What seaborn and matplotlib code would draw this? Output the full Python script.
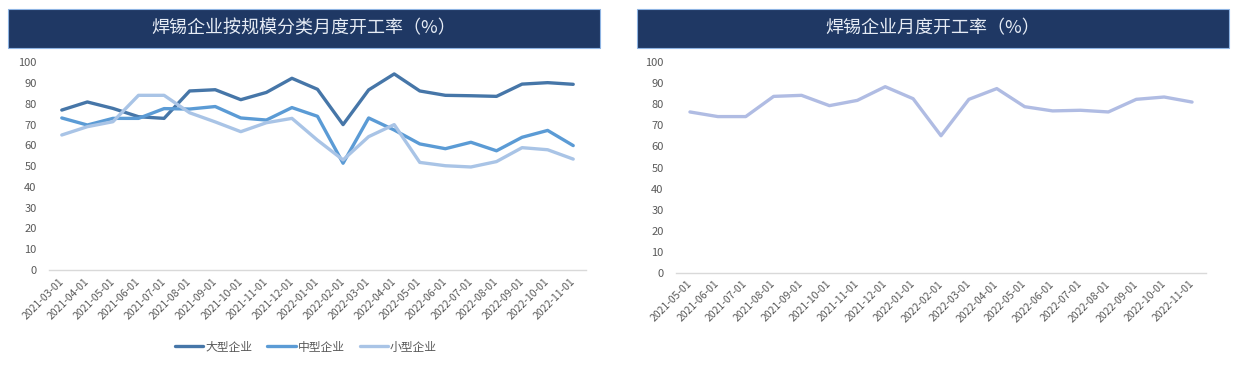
import numpy as np
import pandas as pd
import matplotlib
matplotlib.use("Agg")
import matplotlib.pyplot as plt
import seaborn as sns
from matplotlib.patches import Rectangle
from matplotlib.lines import Line2D

# ---------------- data ----------------
dates_left = ["2021-03-01", "2021-04-01", "2021-05-01", "2021-06-01", "2021-07-01",
              "2021-08-01", "2021-09-01", "2021-10-01", "2021-11-01", "2021-12-01",
              "2022-01-01", "2022-02-01", "2022-03-01", "2022-04-01", "2022-05-01",
              "2022-06-01", "2022-07-01", "2022-08-01", "2022-09-01", "2022-10-01",
              "2022-11-01"]
large = [77.0, 80.9, 77.8, 73.8, 73.0, 86.2, 86.8, 82.0, 85.5, 92.3, 87.0,
         70.0, 86.7, 94.4, 86.2, 84.1, 83.9, 83.6, 89.5, 90.2, 89.4]
medium = [73.2, 69.8, 73.0, 73.0, 77.7, 77.5, 78.7, 73.2, 72.2, 78.2, 74.0,
          51.4, 73.2, 67.4, 60.7, 58.4, 61.5, 57.4, 63.9, 67.2, 59.9]
small = [65.0, 69.0, 71.4, 84.1, 84.1, 75.7, 71.3, 66.6, 70.9, 73.0, 62.5,
         53.0, 64.2, 70.0, 51.8, 50.2, 49.6, 52.2, 58.9, 57.9, 53.4]
series_names = ["大型企业", "中型企业", "小型企业"]

dates_right = ["2021-05-01", "2021-06-01", "2021-07-01", "2021-08-01", "2021-09-01",
               "2021-10-01", "2021-11-01", "2021-12-01", "2022-01-01", "2022-02-01",
               "2022-03-01", "2022-04-01", "2022-05-01", "2022-06-01", "2022-07-01",
               "2022-08-01", "2022-09-01", "2022-10-01", "2022-11-01"]
overall = [76.4, 74.2, 74.2, 83.8, 84.3, 79.4, 81.9, 88.4, 82.7, 65.1,
           82.4, 87.5, 78.9, 76.9, 77.2, 76.4, 82.4, 83.5, 81.1]
overall_name = "开工率"

title_left = "焊锡企业按规模分类月度开工率（%）"
title_right = "焊锡企业月度开工率（%）"
y_ticks = [0, 10, 20, 30, 40, 50, 60, 70, 80, 90, 100]

# ---------------- style ----------------
sns.set_style("white")
plt.rcParams["font.family"] = ["Noto Sans CJK SC", "DejaVu Sans"]
plt.rcParams["axes.unicode_minus"] = False

W, H = 1243, 371
fig = plt.figure(figsize=(W / 100, H / 100), dpi=100)

TICK_COLOR = "#595959"
AXIS_COLOR = "#D9D9D9"
palette_left = {"大型企业": "#4676A8", "中型企业": "#5B9BD5", "小型企业": "#A9C4E6"}
palette_right = {overall_name: "#B0BCE3"}


def px_axes(x0, x1, y_top, y_bot):
    return fig.add_axes([x0 / W, 1 - y_bot / H, (x1 - x0) / W, (y_bot - y_top) / H])


def style_axis(ax, labels):
    n = len(labels)
    ax.set_xlim(-0.5, n - 0.5)
    ax.set_ylim(0, 100)
    ax.set_yticks(y_ticks)
    ax.set_yticklabels([str(v) for v in y_ticks])
    ax.set_xticks(np.arange(n))
    ax.set_xticklabels(labels, rotation=45, ha="right", va="center",
                       rotation_mode="anchor")
    ax.set_xticks(np.arange(-0.5, n, 1), minor=True)
    ax.tick_params(axis="x", which="major", length=0, pad=7, labelsize=7.5,
                   labelcolor=TICK_COLOR)
    ax.tick_params(axis="x", which="minor", length=4, width=1, color=AXIS_COLOR)
    ax.tick_params(axis="y", length=0, pad=9, labelsize=8, labelcolor=TICK_COLOR)
    for s in ["top", "right", "left"]:
        ax.spines[s].set_visible(False)
    ax.spines["bottom"].set_color(AXIS_COLOR)
    ax.spines["bottom"].set_linewidth(1.0)
    ax.set_xlabel("")
    ax.set_ylabel("")
    ax.grid(False)


# ---------------- left chart ----------------
df_left = pd.DataFrame({
    "date": dates_left * 3,
    "value": large + medium + small,
    "series": [series_names[0]] * len(dates_left) + [series_names[1]] * len(dates_left)
              + [series_names[2]] * len(dates_left),
})
axL = px_axes(49, 586, 62.3, 270)
sns.lineplot(data=df_left, x="date", y="value", hue="series", hue_order=series_names,
             palette=palette_left, linewidth=2.4, legend=False, sort=False, ax=axL)
style_axis(axL, dates_left)

handles = [Line2D([0], [0], color=palette_left[n], lw=2.4) for n in series_names]
fig.legend(handles, series_names, loc="center", bbox_to_anchor=(306 / W, 1 - 347 / H),
           ncol=3, frameon=False, fontsize=8.5, handlelength=2.4, handletextpad=0.15,
           columnspacing=1.3, labelcolor=TICK_COLOR)

# ---------------- right chart ----------------
df_right = pd.DataFrame({"date": dates_right, "value": overall,
                         "series": [overall_name] * len(dates_right)})
axR = px_axes(676, 1206, 62.3, 272.7)
sns.lineplot(data=df_right, x="date", y="value", hue="series", palette=palette_right,
             linewidth=2.4, legend=False, sort=False, ax=axR)
style_axis(axR, dates_right)

# ---------------- title boxes ----------------
for (x0, x1), title in [((8, 600), title_left), ((637, 1229), title_right)]:
    y_top, y_bot = 8.5, 47.5
    fig.patches.append(Rectangle((x0 / W, 1 - y_bot / H), (x1 - x0) / W, (y_bot - y_top) / H,
                                 transform=fig.transFigure, facecolor="#1F3864",
                                 edgecolor="#8EB4E3", linewidth=0.8, zorder=0))
    fig.text((x0 + x1) / 2 / W, 1 - 28 / H, title, ha="center", va="center",
             fontsize=13, color="#E6ECF5")

fig.savefig("out.png", dpi=100)
